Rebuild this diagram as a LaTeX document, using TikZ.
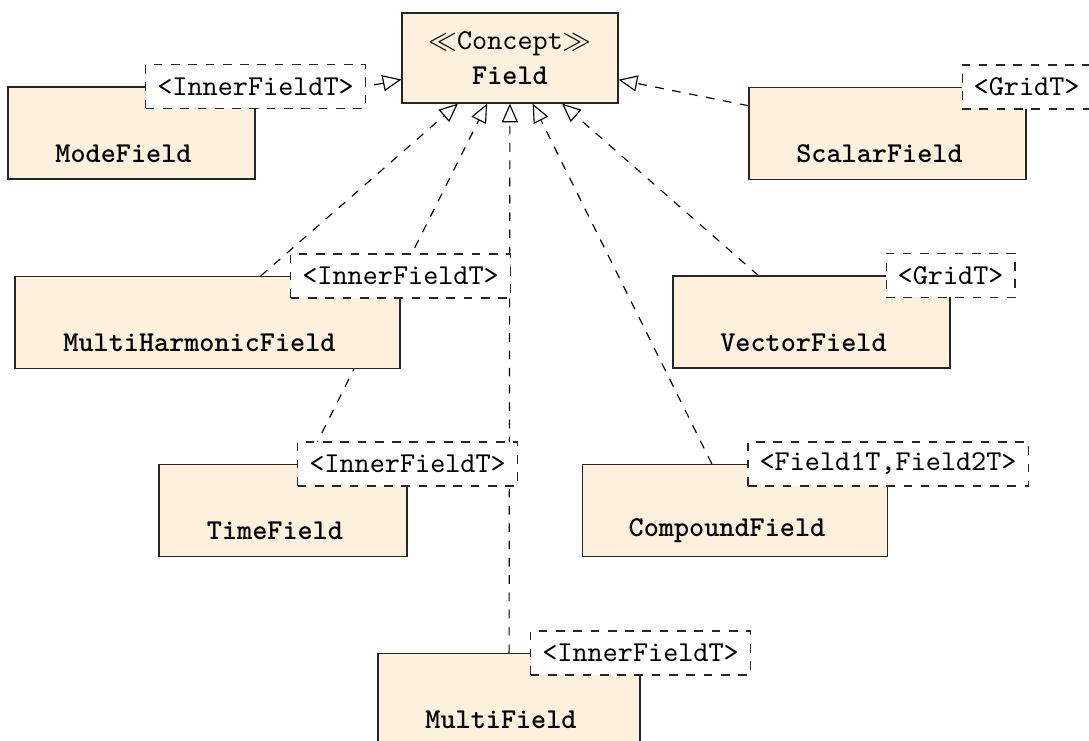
\documentclass[tikz,border=0pt]{standalone}
\usetikzlibrary{arrows.meta,backgrounds,calc}
\definecolor{classfill}{RGB}{253,240,220}
\newcommand{\pxu}{0.3472pt}
\tikzset{
  classbox/.style={rectangle, draw=black!85, line width=0.4pt, fill=classfill,
    minimum height=92*\pxu, minimum width=#1*\pxu, inner sep=0pt},
  classname/.style={font=\ttfamily\bfseries, inner sep=0pt},
  tmpl/.style={rectangle, draw=black!85, dashed, line width=0.4pt, fill=white,
    font=\ttfamily, minimum height=44*\pxu, inner xsep=4pt, inner ysep=0pt},
  realize/.style={draw=black, dashed, line width=0.4pt,
    -{Triangle[open, length=6.5pt, width=5.6pt]}},
}
\begin{document}
\begin{tikzpicture}[x=0.3472pt, y=-0.3472pt]
\useasboundingbox (0,0) rectangle (1089,740);

% concept
\node[classbox=216, minimum height=90*\pxu, align=center, font=\ttfamily]
  (field) at (510,58) {$\ll$Concept$\gg$\\\textbf{Field}};

% models of the concept
\node[classbox=247] (mode) at (131.5,133) {};
\node[classname] (mode-name) at ($(mode.center)+(-8,20.5)$) {ModeField};
\node[tmpl] (mode-t) at (mode.north east) {<InnerFieldT>};

\node[classbox=277] (scalar) at (887.5,133.5) {};
\node[classname] (scalar-name) at ($(scalar.center)+(-8,20.5)$) {ScalarField};
\node[tmpl] (scalar-t) at (scalar.north east) {<GridT>};

\node[classbox=385] (mh) at (207.5,322.5) {};
\node[classname] (mh-name) at ($(mh.center)+(-8,20.5)$) {MultiHarmonicField};
\node[tmpl] (mh-t) at (mh.north east) {<InnerFieldT>};

\node[classbox=277] (vector) at (811.5,322) {};
\node[classname] (vector-name) at ($(vector.center)+(-8,20.5)$) {VectorField};
\node[tmpl] (vector-t) at (vector.north east) {<GridT>};

\node[classbox=248] (time) at (283,510.5) {};
\node[classname] (time-name) at ($(time.center)+(-8,20.5)$) {TimeField};
\node[tmpl] (time-t) at (time.north east) {<InnerFieldT>};

\node[classbox=305] (compound) at (735,510.5) {};
\node[classname] (compound-name) at ($(compound.center)+(-8,20.5)$) {CompoundField};
\node[tmpl] (compound-t) at (compound.north east) {<Field1T,Field2T>};

\node[classbox=262] (multi) at (509,699.5) {};
\node[classname] (multi-name) at ($(multi.center)+(-8,20.5)$) {MultiField};
\node[tmpl] (multi-t) at (multi.north east) {<InnerFieldT>};

% realization links
\begin{scope}[on background layer]
  \draw[realize] (mode) -- (field);
  \draw[realize] (scalar) -- (field);
  \draw[realize] (mh) -- (field);
  \draw[realize] (vector) -- (field);
  \draw[realize] (time) -- (field);
  \draw[realize] (compound) -- (field);
  \draw[realize] (multi) -- (field);
\end{scope}
\end{tikzpicture}
\end{document}
